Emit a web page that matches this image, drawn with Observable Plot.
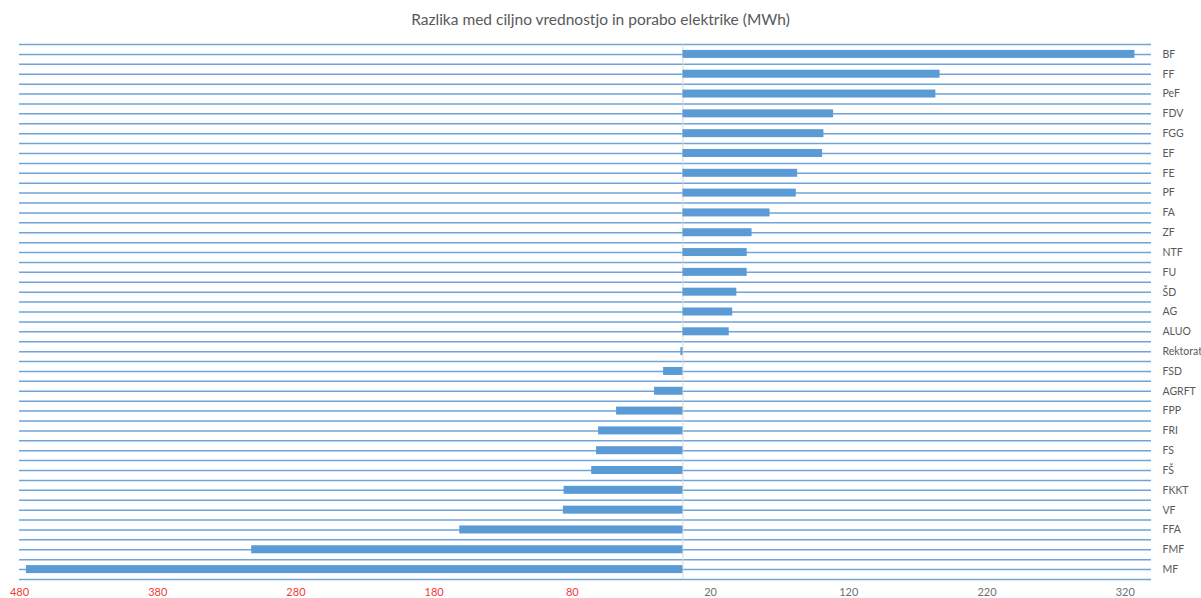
<!DOCTYPE html>
<html>
<head>
<meta charset="utf-8">
<script src="https://cdn.jsdelivr.net/npm/d3@7"></script>
<script src="https://cdn.jsdelivr.net/npm/@observablehq/plot@0.6"></script>
<style>
  html, body { margin: 0; padding: 0; background: #fff; overflow: hidden; }
  #title { height: 36px; line-height: 38px; text-align: center; font-family: Lato, "Open Sans", sans-serif; font-size: 15.5px; color: #595959; }
  #chart svg { display: block; }
</style>
</head>
<body>
<div id="title">Razlika med ciljno vrednostjo in porabo elektrike (MWh)</div>
<div id="chart"></div>
<script>
const categories = ["BF","FF","PeF","FDV","FGG","EF","FE","PF","FA","ZF","NTF","FU","ŠD","AG","ALUO","Rektorat","FSD","AGRFT","FPP","FRI","FS","FŠ","FKKT","VF","FFA","FMF","MF"];
const values = [327,186,183,109,102,101,83,82,63,50,46.5,46.5,39,36,33.5,-1.5,-14,-20.5,-48,-61,-62.5,-66,-86,-86.5,-161.5,-312,-475];
const negTicks = [-480,-380,-280,-180,-80];
const posTicks = [20,120,220,320];

const data = categories.map((c, i) => ({cat: c, value: values[i]}));

const W = 1201, H = 562, mt = 8, mb = 19, ml = 19, mr = 50;
const band = (H - mt - mb) / categories.length;
const lineColor = "#6fa3d9";

const chart = Plot.plot({
  width: W, height: H,
  marginTop: mt, marginBottom: mb, marginLeft: ml, marginRight: mr,
  style: {fontFamily: "Lato, 'Open Sans', sans-serif", fontSize: "10.5px", background: "#fff"},
  x: {domain: [-480, 339], axis: null, label: null},
  y: {domain: categories, padding: 0, round: false, axis: null, label: null},
  marks: [
    Plot.ruleY(categories, {y: d => d, stroke: lineColor, strokeWidth: 1.5}),
    Plot.ruleY(categories, {y: d => d, dy: -band / 2, stroke: lineColor, strokeWidth: 1.5}),
    Plot.ruleY(categories.slice(-1), {y: d => d, dy: band / 2, stroke: lineColor, strokeWidth: 1.5}),
    Plot.ruleX([0], {stroke: "#d9d9d9", strokeWidth: 1}),
    Plot.barX(data, {x: "value", y: "cat", fill: "#5b9bd5", insetTop: (band - 8) / 2, insetBottom: (band - 8) / 2}),
    Plot.axisX({ticks: negTicks, tickFormat: d => Math.abs(d), tickSize: 0, tickPadding: 9, fill: "#f03a3a", fontSize: 11, label: null}),
    Plot.axisX({ticks: posTicks, tickFormat: d => d, tickSize: 0, tickPadding: 9, fill: "#6f6f6f", fontSize: 11, label: null}),
    Plot.axisY({anchor: "right", tickSize: 0, tickPadding: 11, fill: "#595959", fontSize: 10.5, label: null})
  ]
});
document.getElementById("chart").appendChild(chart);
</script>
</body>
</html>
